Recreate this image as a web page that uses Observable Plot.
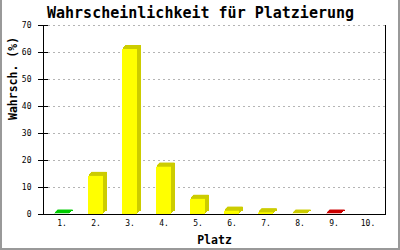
<!DOCTYPE html>
<html><head><meta charset="utf-8">
<script src="https://cdn.jsdelivr.net/npm/d3@7"></script>
<script src="https://cdn.jsdelivr.net/npm/@observablehq/plot@0.6"></script>
<style>
body{margin:0;background:#fff}
#wrap{position:relative;width:400px;height:250px;overflow:hidden;background:#fff}
#border{position:absolute;left:0;top:0;width:400px;height:250px;box-sizing:border-box;border-left:2px solid #999;border-right:2px solid #999;border-bottom:2px solid #999;pointer-events:none}
</style></head><body><div id="wrap"><div id="border"></div></div>
<script>
const places = ["1.", "2.", "3.", "4.", "5.", "6.", "7.", "8.", "9.", "10."];
const values = [0.1, 14.1, 61.1, 17.5, 5.6, 1.2, 0.6, 0.1, 0.1, 0];
const frontColors = ["#00dd00", "#ffff00", "#ffff00", "#ffff00", "#ffff00", "#ffff00", "#ffff00", "#ffff00", "#ee0000", "#ee0000"];
const sideColors = ["#00cc00", "#cccc00", "#cccc00", "#cccc00", "#cccc00", "#cccc00", "#cccc00", "#cccc00", "#cc0000", "#cc0000"];
const yTicks = [0, 10, 20, 30, 40, 50, 60, 70];
const title = "Wahrscheinlichkeit für Platzierung";
const yLabel = "Wahrsch. (%)";
const xLabel = "Platz";

const data = places.map((p, i) => ({place: p, value: values[i], front: frontColors[i], side: sideColors[i]}));
const shown = data.filter(d => d.value > 0);
const mono = "'DejaVu Sans Mono', monospace";
const shadowOffsets = [[1, -1], [2, -2], [3, -3], [4, -3]];

const chart = Plot.plot({
  width: 400, height: 250,
  marginLeft: 43, marginRight: 15, marginTop: 25, marginBottom: 36,
  style: {fontFamily: mono, background: "transparent", color: "black"},
  x: {type: "band", domain: places, paddingInner: 0.56, paddingOuter: 0.28},
  y: {domain: [0, 70]},
  marks: [
    Plot.gridY(yTicks.filter(t => t > 0), {stroke: "#b4b4b4", strokeOpacity: 1, strokeDasharray: "2,3"}),
    ...shadowOffsets.map(([dx, dy]) => Plot.barY(shown, {x: "place", y: "value", fill: "side", dx, dy, insetTop: -1})),
    Plot.barY(shown, {x: "place", y: "value", fill: "front"}),
    Plot.ruleY([0], {stroke: "black"}),
    Plot.frame({anchor: "left", stroke: "black"}),
    Plot.frame({anchor: "right", stroke: "black"}),
    Plot.axisY({ticks: yTicks, tickSize: 10, dx: 5, tickPadding: 7, fontSize: 8, label: null, stroke: "black"}),
    Plot.axisX({tickSize: 0, tickPadding: 6, fontSize: 8, label: null}),
    Plot.text([title], {frameAnchor: "top", dx: -14, dy: -12, fontSize: 15, fontWeight: "bold", lineAnchor: "middle", fill: "black"}),
    Plot.text([yLabel], {frameAnchor: "left", dx: -30, rotate: -90, fontSize: 11.5, fontWeight: "bold", fill: "black"}),
    Plot.text([xLabel], {frameAnchor: "bottom", dy: 26, fontSize: 11.5, fontWeight: "bold", lineAnchor: "middle", fill: "black"})
  ]
});
document.getElementById("wrap").prepend(chart);
</script>
</body></html>
